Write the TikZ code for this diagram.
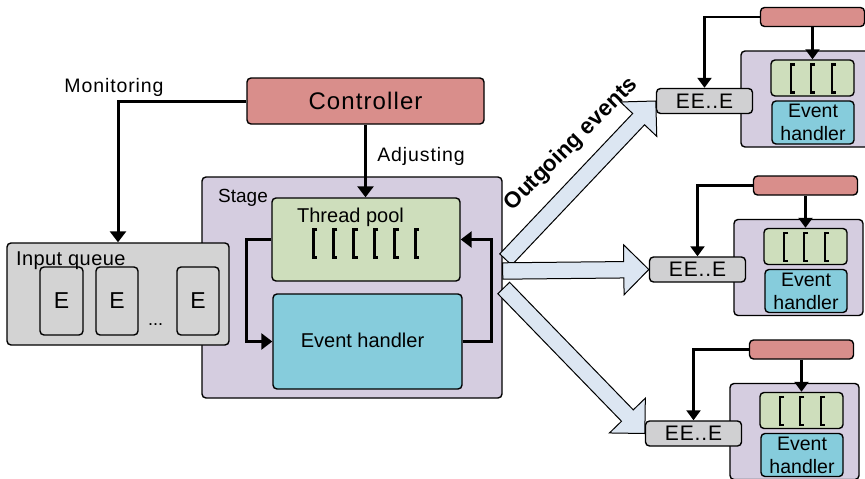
\documentclass[tikz,border=0pt]{standalone}
\usepackage{fontspec}
\setmainfont{Liberation Sans}
\newfontfamily\spcA[LetterSpace=4.6]{Liberation Sans}
\newfontfamily\spcB[LetterSpace=4]{Liberation Sans}
\newfontfamily\spcC[LetterSpace=2]{Liberation Sans}
\usetikzlibrary{arrows.meta,calc}
\definecolor{ctrlc}{RGB}{217,142,139}
\definecolor{stagec}{RGB}{213,205,224}
\definecolor{poolc}{RGB}{206,222,188}
\definecolor{ehc}{RGB}{134,204,220}
\definecolor{queuec}{RGB}{211,211,211}
\definecolor{eec}{RGB}{208,208,210}
\definecolor{fatc}{RGB}{220,230,242}
\newcommand\fsz[1]{\fontsize{#1}{#1}\selectfont}
\newcommand\brkt[4]{\draw[line join=miter,line cap=butt] (#1+#4,#2) -- (#1,#2) -- (#1,#3) -- (#1+#4,#3);}
\newcommand\fatarrow[3]{% name, tail, tip
  \coordinate (#1h) at ($(#3)!25pt!(#2)$);
  \draw[fat] ($(#2)!8.2pt!90:(#3)$) -- ($(#1h)!8.2pt!90:(#3)$) -- ($(#1h)!25pt!90:(#3)$) -- (#3)
    -- ($(#1h)!25pt!-90:(#3)$) -- ($(#1h)!8.2pt!-90:(#3)$) -- ($(#2)!8.2pt!-90:(#3)$) -- cycle;}
\newcommand\grp[3]{% name, x, y of EE..E centre
  \begin{scope}[shift={(#2,#3)}]
    \node[box, fill=stagec, minimum width=129pt, minimum height=96pt] (#1st) at (101,-2) {};
    \node[box, fill=poolc, minimum width=83pt, minimum height=36pt] (#1tp) at (108,-23) {};
    \node[box, fill=ehc, minimum width=82pt, minimum height=43pt, font=\fontsize{19.5}{23}\selectfont] (#1eh) at (108.5,21.5) {Event\\handler};
    \node[box, fill=eec, minimum width=96pt, minimum height=25pt, font=\spcB\fsz{21}] (#1ee) at (0,0) {EE..E};
    \node[box, fill=ctrlc, minimum width=104pt, minimum height=19pt] (#1c) at (108,-84) {};
    \begin{scope}[line width=2.5pt]
      \foreach \xx in {86.5,106.5,127.5} {\brkt{\xx}{-36.5}{-8.5}{4}}
    \end{scope}
  \end{scope}
  \draw[sconn] (#1c.west) -| (#1ee.north);
  \draw[sconn] (#1c.south) -- (#1tp.north);}
\begin{document}
\begin{tikzpicture}[x=1pt,y=-1pt,
  box/.style={draw, line width=1.4pt, rounded corners=4pt, inner sep=0pt, align=center},
  conn/.style={line width=3pt, -{Triangle[width=16pt,length=11pt]}},
  sconn/.style={line width=2.3pt, -{Triangle[width=14pt,length=10pt]}},
  fat/.style={line width=1pt, fill=fatc, draw=black, line join=miter},
  lbl/.style={inner sep=0pt, anchor=base}]
\useasboundingbox (0,0) rectangle (865,479);
\fill[white] (0,0) rectangle (865,479);

% main stage
\node[box, fill=stagec, minimum width=300pt, minimum height=221pt] (stage) at (352,287.5) {};
\node[lbl, anchor=base west, font=\fsz{19}] (stagelbl) at (218,202.7) {Stage};
\node[box, fill=poolc, minimum width=188pt, minimum height=83pt] (pool) at (366,239.5) {};
\node[lbl, font=\fsz{20}] (poollbl) at (350.5,222) {Thread pool};
\begin{scope}[line width=3pt]
  \foreach \i in {0,...,5} {\brkt{313+20.4*\i}{229}{257}{4}}
\end{scope}
\node[box, fill=ehc, minimum width=189pt, minimum height=95pt] (eh) at (367.5,341.5) {};
\node[lbl, font=\fsz{20}] (ehlbl) at (362.5,347.3) {Event handler};

% controller
\node[box, fill=ctrlc, minimum width=237pt, minimum height=46pt, font=\spcA\fsz{24}] (ctrl) at (365.5,101) {Controller};

% input queue
\node[box, fill=queuec, minimum width=222pt, minimum height=102pt] (queue) at (118,294) {};
\node[box, minimum width=43pt, minimum height=68pt, font=\fsz{23}] (e1) at (61.5,301) {E};
\node[box, minimum width=42pt, minimum height=68pt, font=\fsz{23}] (e2) at (117,301) {E};
\node[box, minimum width=42pt, minimum height=68pt, font=\fsz{23}] (e3) at (198,301) {E};
\node[lbl, anchor=base west, font=\spcC\fsz{20}] (queuelbl) at (16,265) {Input queue};
\node[lbl, font=\fsz{18}] (dots) at (155.5,325) {...};

% connectors
\draw[conn] (ctrl.west) -| (queue.north);
\node[lbl, font=\spcA\fsz{19.5}] (monlbl) at (114,92) {Monitoring};
\draw[conn] (ctrl.south) -- (ctrl.south |- pool.north);
\node[lbl, font=\spcA\fsz{19.5}] (adjlbl) at (421,161.7) {Adjusting};
\draw[conn] (pool.west) -- ++(-25,0) |- (eh.west);
\draw[conn] (eh.east) -- ++(29,0) |- (pool.east);

% right groups
\grp{a}{704.5}{101}
\grp{b}{697.5}{269.5}
\grp{c}{693.5}{433.5}

% fat arrows
\coordinate (t1) at ($(stage.east)+(3,-28)$);
\coordinate (t2) at ($(stage.east)+(0,-16.5)$);
\coordinate (t3) at ($(stage.east)+(1,0.5)$);
\fatarrow{fa}{t1}{aee.west}
\fatarrow{fc}{t3}{cee.west}
\fatarrow{fb}{t2}{bee.west}
\node[inner sep=0pt, rotate=45, font=\bfseries\fsz{22.5}] (outlbl) at (571.5,144.5) {Outgoing events};
\end{tikzpicture}
\end{document}
